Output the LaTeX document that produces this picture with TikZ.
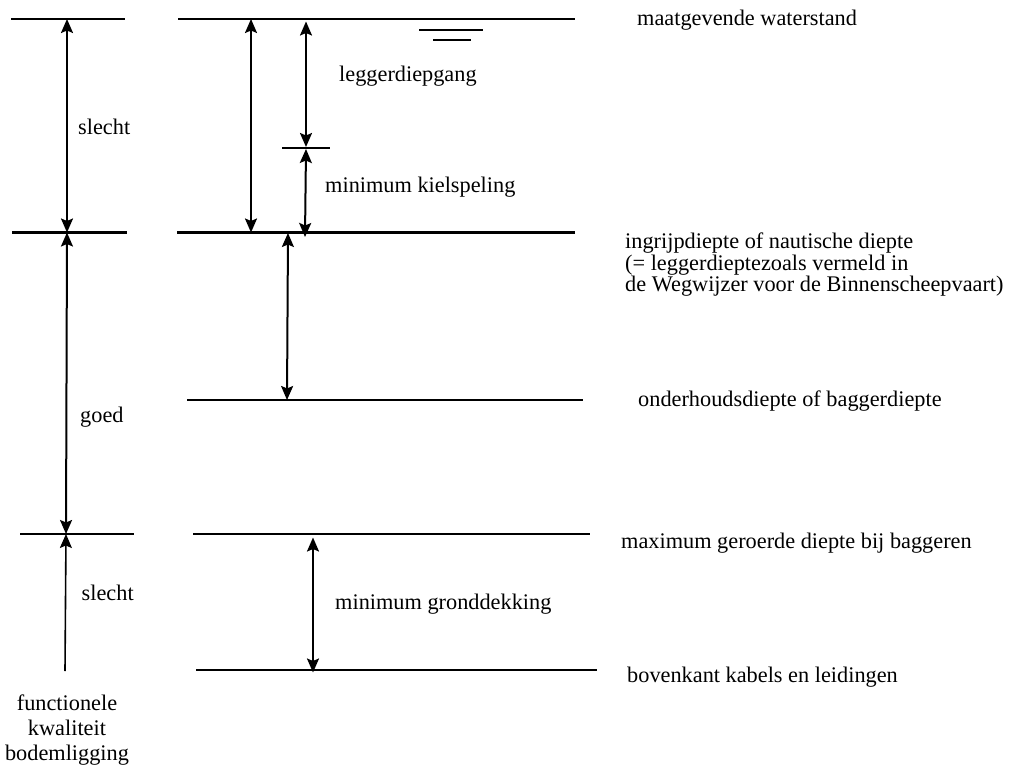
\documentclass[tikz,border=0pt]{standalone}
\usepackage{fontspec}
\setmainfont{Liberation Serif}
\usetikzlibrary{arrows.meta}
\begin{document}
\begin{tikzpicture}[x=1pt,y=-1pt,
  level/.style={line width=2.2pt},
  thinlevel/.style={line width=2pt},
  tip/.tip={Stealth[length=14pt,width=12pt,inset=2.5pt]},
  dim/.style={line width=2pt,tip-tip},
  updim/.style={line width=1.6pt,-tip},
  lbl/.style={anchor=base west,inner sep=0pt,font=\fontsize{22.3}{21.7}\selectfont},
  clbl/.style={anchor=base,inner sep=0pt,font=\fontsize{22.3}{25}\selectfont},
]
\useasboundingbox (0,0) rectangle (1012,767);

% --- reference levels ---
\coordinate (mwL1) at (11,19);    \coordinate (mwL2) at (125,19);
\coordinate (mwR1) at (178,19);   \coordinate (mwR2) at (575,19);
\coordinate (inL1) at (12,232.5); \coordinate (inL2) at (127,232.5);
\coordinate (inR1) at (177,232.5);\coordinate (inR2) at (575,232.5);
\coordinate (od1) at (187,400);   \coordinate (od2) at (583,400);
\coordinate (mxL1) at (20,534);   \coordinate (mxL2) at (134,534);
\coordinate (mxR1) at (193,534);  \coordinate (mxR2) at (590,534);
\coordinate (bk1) at (196,670);   \coordinate (bk2) at (597,670);
\coordinate (tk1) at (282,147.7); \coordinate (tk2) at (330,147.7);
\coordinate (ws1) at (419,30);    \coordinate (ws2) at (483,30);
\coordinate (ws3) at (433,40);    \coordinate (ws4) at (471,40);

\draw[level] (mwL1) -- (mwL2);
\draw[level] (mwR1) -- (mwR2);
\draw[level] (inL1) -- (inL2);
\draw[level] (inR1) -- (inR2);
\draw[thinlevel] (od1) -- (od2);
\draw[thinlevel] (mxL1) -- (mxL2);
\draw[thinlevel] (mxR1) -- (mxR2);
\draw[level] (bk1) -- (bk2);
\draw[thinlevel] (tk1) -- (tk2);
% water level symbol
\draw[thinlevel] (ws1) -- (ws2);
\draw[thinlevel] (ws3) -- (ws4);

% --- dimension arrows ---
\coordinate (a1t) at (67,19);    \coordinate (a1b) at (67,232.5);
\coordinate (a2b) at (66,534);
\coordinate (a3b) at (65,671);
\coordinate (b1t) at (251,19);   \coordinate (b1b) at (251,232.5);
\coordinate (b2t) at (306,21.5); \coordinate (b2b) at (306,147);
\coordinate (b3t) at (306,149);  \coordinate (b3b) at (305,237);
\coordinate (b4t) at (288,233);  \coordinate (b4b) at (287,400);
\coordinate (b5t) at (313,537.5);\coordinate (b5b) at (313,672.5);

\draw[dim] (a1t) -- (a1b);
\draw[dim] (a1b) -- (a2b);
\draw[updim] (a3b) -- (a2b);
\draw[dim] (b1t) -- (b1b);
\draw[dim] (b2t) -- (b2b);
\draw[dim] (b3t) -- (b3b);
\draw[dim] (b4t) -- (b4b);
\draw[dim] (b5t) -- (b5b);

% --- labels ---
\node[lbl] (tmw) at (637,26) {maatgevende waterstand};
\node[lbl] (tlg) at (339,82) {leggerdiepgang};
\node[lbl] (ts1) at (78,135) {slecht};
\node[lbl] (tks) at (325,193) {minimum kielspeling};
\node[lbl] (tin1) at (625,248.5) {ingrijpdiepte of nautische diepte};
\node[lbl] (tin2) at (625,270.2) {(= leggerdieptezoals vermeld in};
\node[lbl] (tin3) at (625,291.9) {de Wegwijzer voor de Binnenscheepvaart)};
\node[lbl] (tgd) at (80,422.7) {goed};
\node[lbl] (tod) at (638,406.7) {onderhoudsdiepte of baggerdiepte};
\node[lbl] (tmx) at (621,548) {maximum geroerde diepte bij baggeren};
\node[lbl] (ts2) at (81.5,600) {slecht};
\node[lbl] (tgr) at (335,609) {minimum gronddekking};
\node[lbl] (tbk) at (627,682) {bovenkant kabels en leidingen};
\node[clbl] (tf1) at (67,710) {functionele};
\node[clbl] (tf2) at (67,735) {kwaliteit};
\node[clbl] (tf3) at (67,760) {bodemligging};
\end{tikzpicture}
\end{document}
